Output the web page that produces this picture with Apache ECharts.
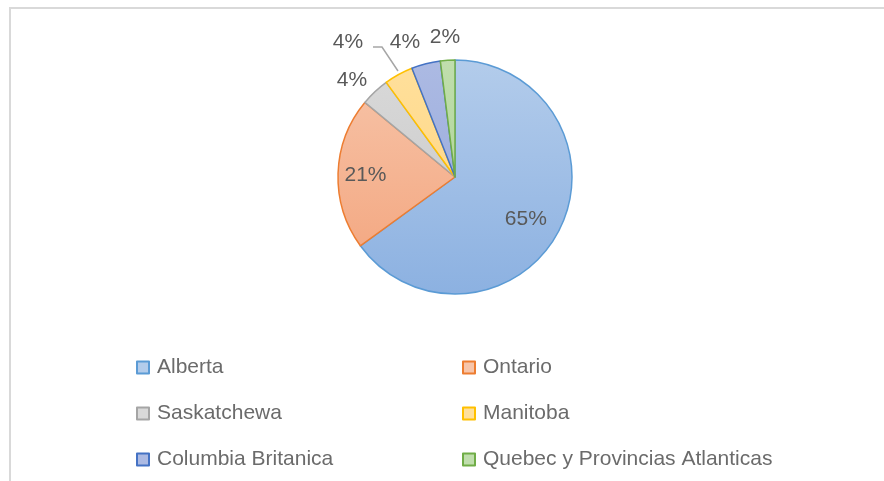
<!DOCTYPE html>
<html>
<head>
<meta charset="utf-8">
<script src="https://cdn.jsdelivr.net/npm/echarts@6/dist/echarts.min.js"></script>
<style>
  html, body { margin: 0; padding: 0; background: #fff; }
  #chart { width: 884px; height: 481px; }
</style>
</head>
<body>
<div id="chart"></div>
<script>
// provinces and their share of the total (percent)
const provinces = ['Alberta', 'Ontario', 'Saskatchewa', 'Manitoba', 'Columbia Britanica', 'Quebec y Provincias Atlanticas'];
const shares = [65, 21, 4, 4, 4, 2];

// Office-like palette: border colour, gradient top, gradient bottom
const borderColors = ['#5b9bd5', '#ed7d31', '#a5a5a5', '#ffc000', '#4472c4', '#70ad47'];
const fillTop = ['#b3cceb', '#f7c5aa', '#d9d9d9', '#ffe09c', '#acbae3', '#c0dead'];
const fillBottom = ['#8cb1e1', '#f3a37b', '#c6c6c6', '#ffd27a', '#93a6da', '#a6cf8c'];

const cx = 455, cy = 177, r = 117;
const labelColor = '#595959';

// where Excel put the small outside labels (label centre), and the one leader line
const outsideLabels = {
  2: [352, 80],
  3: [348, 42],
  4: [405, 42],
  5: [445, 37]
};
const leaderLine = { 3: [[373, 47], [382, 47], [398, 71]] };

const chart = echarts.init(document.getElementById('chart'), null, { renderer: 'canvas' });

const data = provinces.map((name, i) => {
  const inside = i < 2;
  return {
    name: name,
    value: shares[i],
    itemStyle: {
      color: new echarts.graphic.LinearGradient(0, cy - r, 0, cy + r, [
        { offset: 0, color: fillTop[i] },
        { offset: 1, color: fillBottom[i] }
      ], true),
      borderColor: borderColors[i],
      borderWidth: 1.5
    },
    label: {
      position: inside ? 'inside' : 'outside',
      offset: i === 0 ? [16, 14] : (i === 1 ? [-28, 0] : [0, 0])
    },
    labelLine: {
      show: i === 3,
      length: 6,
      length2: 4,
      lineStyle: { color: '#a6a6a6', width: 1.5 }
    }
  };
});

const legendText = {
  color: '#6b6b6b',
  fontFamily: '"Liberation Sans", sans-serif',
  fontSize: 21,
  lineHeight: 20,
  padding: [0, 0, 0, 3]
};

function column(left, names) {
  return {
    orient: 'vertical',
    left: left,
    top: 352,
    itemWidth: 12,
    itemHeight: 12,
    itemGap: 25,
    icon: 'rect',
    data: names,
    textStyle: legendText
  };
}

chart.setOption({
  backgroundColor: '#fff',
  animation: false,
  graphic: [{
    type: 'rect',
    shape: { x: 10, y: 8, width: 900, height: 500 },
    style: { fill: 'none', stroke: '#d9d9d9', lineWidth: 2 },
    silent: true
  }],
  legend: [
    column(131, [provinces[0], provinces[2], provinces[4]]),
    column(457, [provinces[1], provinces[3], provinces[5]])
  ],
  series: [{
    type: 'pie',
    center: [cx, cy],
    radius: r,
    startAngle: 90,
    clockwise: true,
    avoidLabelOverlap: false,
    data: data,
    label: {
      show: true,
      formatter: '{d}%',
      color: labelColor,
      fontFamily: '"Liberation Sans", sans-serif',
      fontSize: 21
    },
    labelLayout: function (params) {
      const pos = outsideLabels[params.dataIndex];
      if (!pos) return {};
      const out = { x: pos[0], y: pos[1], align: 'center', verticalAlign: 'middle' };
      if (leaderLine[params.dataIndex]) out.labelLinePoints = leaderLine[params.dataIndex];
      return out;
    },
    emphasis: { disabled: true }
  }]
});
</script>
</body>
</html>
